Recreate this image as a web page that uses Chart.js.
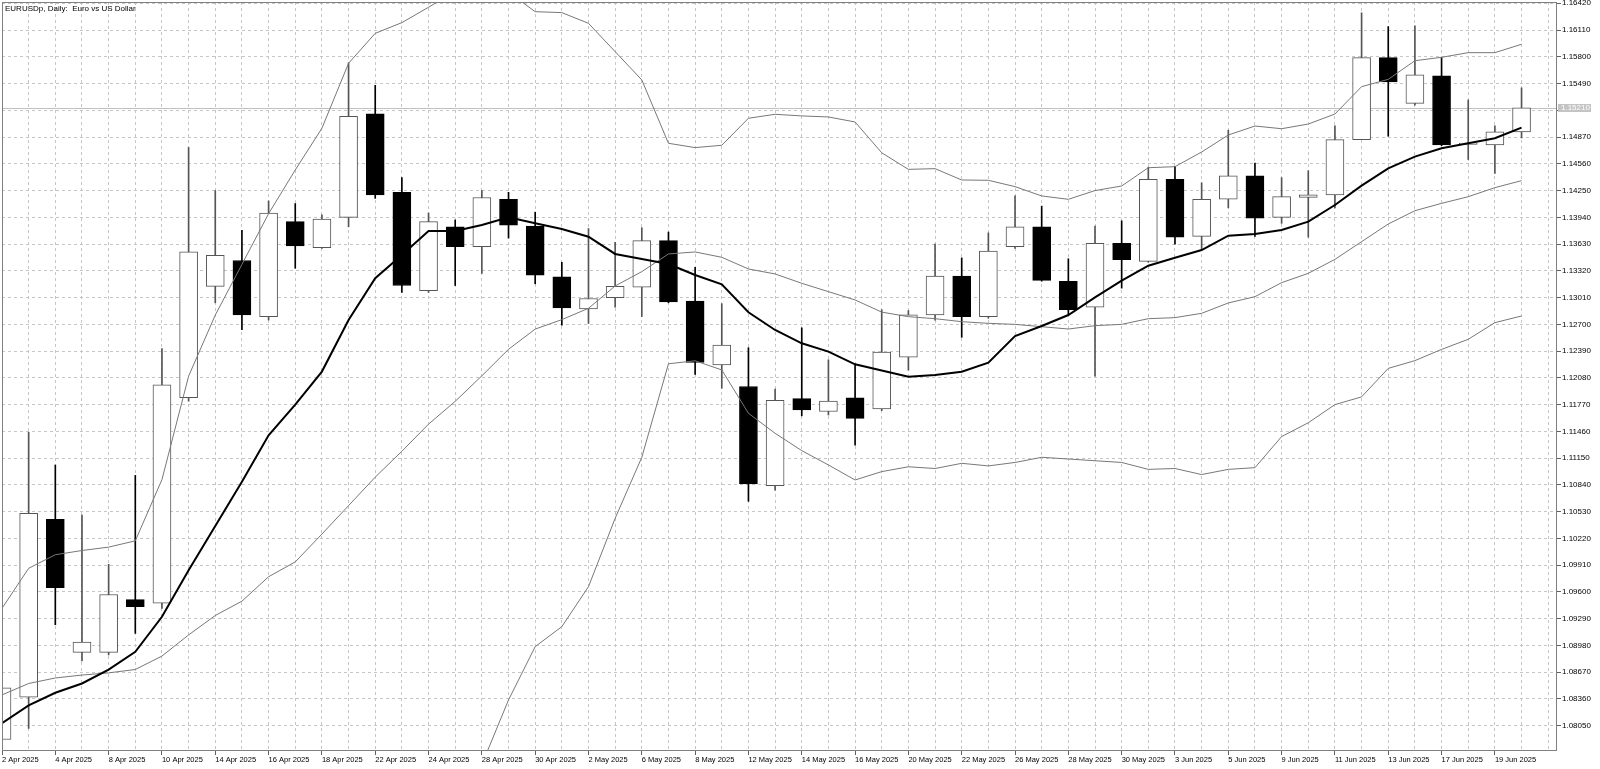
<!DOCTYPE html>
<html>
<head>
<meta charset="utf-8">
<style>html,body{margin:0;padding:0;background:#fff;overflow:hidden}canvas{display:block}</style>
<script src="https://cdn.jsdelivr.net/npm/chart.js@4.4.0/dist/chart.umd.min.js"></script>
</head>
<body>
<canvas id="c" width="1600" height="769"></canvas>
<script>
const chartTitle = 'EURUSDp, Daily:  Euro vs US Dollar';

const dates = [
  '2 Apr 2025','3 Apr 2025','4 Apr 2025','7 Apr 2025','8 Apr 2025','9 Apr 2025','10 Apr 2025','11 Apr 2025','14 Apr 2025','15 Apr 2025',
  '16 Apr 2025','17 Apr 2025','18 Apr 2025','21 Apr 2025','22 Apr 2025','23 Apr 2025','24 Apr 2025','25 Apr 2025','28 Apr 2025','29 Apr 2025',
  '30 Apr 2025','1 May 2025','2 May 2025','5 May 2025','6 May 2025','7 May 2025','8 May 2025','9 May 2025','12 May 2025','13 May 2025',
  '14 May 2025','15 May 2025','16 May 2025','19 May 2025','20 May 2025','21 May 2025','22 May 2025','23 May 2025','26 May 2025','27 May 2025',
  '28 May 2025','29 May 2025','30 May 2025','2 Jun 2025','3 Jun 2025','4 Jun 2025','5 Jun 2025','6 Jun 2025','9 Jun 2025','10 Jun 2025',
  '11 Jun 2025','12 Jun 2025','13 Jun 2025','16 Jun 2025','17 Jun 2025','18 Jun 2025','19 Jun 2025','20 Jun 2025'
];

const open = [
  1.0789, 1.0838, 1.1044, 1.0890, 1.0890, 1.0951, 1.0947, 1.1185, 1.1314, 1.1344,
  1.1279, 1.1389, 1.1359, 1.1394, 1.1514, 1.1423, 1.1309, 1.1383, 1.1360, 1.1415,
  1.1384, 1.1325, 1.1288, 1.1301, 1.1313, 1.1367, 1.1297, 1.1223, 1.1198, 1.1083,
  1.1184, 1.1169, 1.1185, 1.1172, 1.1232, 1.1281, 1.1326, 1.1279, 1.1360, 1.1383,
  1.1320, 1.1290, 1.1364, 1.1343, 1.1438, 1.1372, 1.1415, 1.1442, 1.1394, 1.1417,
  1.1420, 1.1484, 1.1579, 1.1526, 1.1558, 1.14785, 1.1478, 1.1493
];
const high = [
  1.0866, 1.1145, 1.1107, 1.1049, 1.0992, 1.1095, 1.1242, 1.1475, 1.1425, 1.1379,
  1.1413, 1.1410, 1.1397, 1.1573, 1.1547, 1.1440, 1.1399, 1.1391, 1.1425, 1.1423,
  1.1400, 1.1342, 1.1381, 1.1365, 1.1382, 1.1377, 1.1336, 1.1294, 1.1243, 1.1195,
  1.1266, 1.1229, 1.1224, 1.1287, 1.1286, 1.1363, 1.1347, 1.1376, 1.1419, 1.1407,
  1.1346, 1.1384, 1.1390, 1.1452, 1.1453, 1.1434, 1.1495, 1.1457, 1.1440, 1.1448,
  1.1500, 1.1631, 1.1615, 1.1616, 1.1579, 1.1530, 1.1500, 1.1544
];
const low = [
  1.0779, 1.0802, 1.0922, 1.0880, 1.0887, 1.0912, 1.0941, 1.1181, 1.1295, 1.1264,
  1.1275, 1.1335, 1.1358, 1.1383, 1.1416, 1.1307, 1.1307, 1.1315, 1.1329, 1.1370,
  1.1317, 1.1269, 1.1271, 1.1290, 1.1279, 1.1295, 1.1212, 1.1196, 1.1065, 1.1078,
  1.1164, 1.1165, 1.1130, 1.1170, 1.1217, 1.1275, 1.1255, 1.1277, 1.1358, 1.1320,
  1.1282, 1.1210, 1.1312, 1.1342, 1.1363, 1.1357, 1.1405, 1.1372, 1.1387, 1.1371,
  1.1405, 1.1484, 1.1488, 1.1524, 1.1477, 1.1461, 1.1445, 1.1486
];
const close = [
  1.0849, 1.1051, 1.0965, 1.0902, 1.0957, 1.0943, 1.1200, 1.1354, 1.1350, 1.1281,
  1.1399, 1.1361, 1.1392, 1.1511, 1.1420, 1.1315, 1.1389, 1.1360, 1.1417, 1.1385,
  1.1327, 1.1289, 1.1300, 1.1314, 1.1367, 1.1296, 1.1226, 1.1246, 1.1085, 1.1182,
  1.1171, 1.1181, 1.1161, 1.1238, 1.1281, 1.1326, 1.1279, 1.1355, 1.1383, 1.1321,
  1.1287, 1.1364, 1.1345, 1.1438, 1.1371, 1.1415, 1.1442, 1.1393, 1.1418, 1.1420,
  1.1484, 1.1579, 1.1551, 1.1559, 1.1478, 1.1480, 1.1493, 1.1521
];

const movingAverage = [
  1.0808, 1.08285, 1.08432, 1.08539, 1.08701, 1.08906, 1.09312, 1.0985, 1.10363, 1.10877,
  1.11415, 1.1177, 1.12153, 1.12751, 1.13234, 1.13504, 1.13782, 1.13782, 1.13852, 1.13941,
  1.13871, 1.13805, 1.13716, 1.13516, 1.13458, 1.134, 1.13272, 1.13164, 1.1284, 1.12635,
  1.12481, 1.12384, 1.12237, 1.12166, 1.12094, 1.12113, 1.12152, 1.12256, 1.12565, 1.12681,
  1.12808, 1.13013, 1.13206, 1.1338, 1.13472, 1.13561, 1.13727, 1.13747, 1.13793, 1.1389,
  1.14083, 1.14307, 1.14508, 1.14643, 1.1474, 1.14798, 1.14856, 1.14979
];
const bandUpper = [
  1.0941, 1.09874, 1.10031, 1.1008, 1.10119, 1.10192, 1.10901, 1.121, 1.12808, 1.13395,
  1.13982, 1.14489, 1.14972, 1.15725, 1.16072, 1.16196, 1.16374, 1.1656, 1.1665, 1.1655,
  1.16323, 1.16312, 1.16188, 1.1586, 1.15532, 1.14798, 1.14748, 1.14775, 1.15088, 1.15134,
  1.15115, 1.15103, 1.15045, 1.14688, 1.14496, 1.14504, 1.14373, 1.14369, 1.14296, 1.14188,
  1.14149, 1.1425, 1.14303, 1.14515, 1.14527, 1.14697, 1.14894, 1.14998, 1.14967, 1.15021,
  1.15137, 1.15454, 1.15539, 1.15755, 1.15794, 1.15848, 1.15848, 1.15945
];
const bandMiddle = [
  1.08407, 1.08539, 1.08603, 1.08637, 1.08662, 1.08701, 1.08857, 1.09102, 1.09327, 1.09493,
  1.09776, 1.09948, 1.1027, 1.1060, 1.1093, 1.1123, 1.11544, 1.11808, 1.12104, 1.12411,
  1.12645, 1.12755, 1.12886, 1.13145, 1.13311, 1.13516, 1.13539, 1.13477, 1.13342, 1.13284,
  1.13176, 1.13079, 1.12983, 1.12842, 1.12789, 1.12766, 1.12731, 1.12712, 1.127, 1.12673,
  1.12646, 1.12685, 1.127, 1.12766, 1.12778, 1.12828, 1.12948, 1.13021, 1.13183, 1.13291,
  1.13453, 1.13658, 1.13863, 1.14017, 1.14102, 1.14179, 1.14284, 1.14365
];
const bandLower = [
  1.0740, 1.0720, 1.0718, 1.0719, 1.0720, 1.0721, 1.0681, 1.0610, 1.0585, 1.0559,
  1.0557, 1.0538, 1.0557, 1.0548, 1.0579, 1.0626, 1.0669, 1.0703, 1.0760, 1.08348,
  1.08966, 1.09198, 1.09661, 1.10453, 1.1116, 1.12243, 1.12278, 1.12172, 1.1167, 1.11438,
  1.11237, 1.11071, 1.10897, 1.10994, 1.1105, 1.1103, 1.1109, 1.1106, 1.1110, 1.1116,
  1.1114, 1.1112, 1.1110, 1.1102, 1.1103, 1.1096, 1.1102, 1.1104, 1.1140, 1.1156,
  1.1177, 1.1186, 1.1219, 1.1228, 1.1241, 1.12527, 1.1272, 1.12797
];

const yTickLabels = [
  '1.08050','1.08360','1.08670','1.08980','1.09290','1.09600','1.09910','1.10220','1.10530','1.10840',
  '1.11150','1.11460','1.11770','1.12080','1.12390','1.12700','1.13010','1.13320','1.13630','1.13940',
  '1.14250','1.14560','1.14870','1.15180','1.15490','1.15800','1.16110','1.16420'
];
const lastPrice = 1.15210;
const lastPriceLabel = '1.15210';

// view window of the price axis and time axis
const Y_MIN = 1.07757, Y_MAX = 1.16435, X_MAX = 58.33;

const FONT = '"Liberation Sans", Arial, sans-serif';
const idx = dates.map((d, i) => i);
const isUp = idx.map(i => close[i] >= open[i]);
const UP_LINE = '#555555';
const BAND = '#787878';
const toXY = arr => arr.map((v, i) => ({ x: i, y: v }));
const labelFor = v => (Number.isInteger(v) && v % 2 === 0 && v < dates.length) ? dates[v] : '';

const mtPlugin = {
  id: 'mt',
  beforeDraw(chart) {
    const c = chart.ctx;
    c.save(); c.fillStyle = '#fff'; c.fillRect(0, 0, chart.width, chart.height); c.restore();
  },
  beforeDatasetsDraw(chart) {
    const c = chart.ctx, a = chart.chartArea;
    const y = Math.round(chart.scales.y.getPixelForValue(lastPrice)) + 0.5;
    c.save();
    c.strokeStyle = '#c0c0c0'; c.lineWidth = 1;
    c.beginPath(); c.moveTo(a.left, y); c.lineTo(a.right, y); c.stroke();
    c.restore();
  },
  afterDraw(chart) {
    const c = chart.ctx, a = chart.chartArea;
    c.save();
    c.strokeStyle = '#808080'; c.lineWidth = 1;
    c.strokeRect(Math.round(a.left) + 0.5, Math.round(a.top) + 0.5, Math.round(a.right - a.left) - 1, Math.round(a.bottom - a.top) - 1);
    const y = chart.scales.y.getPixelForValue(lastPrice);
    c.fillStyle = '#c4c4c4';
    c.fillRect(a.right + 1, Math.round(y) - 4, 33, 8);
    c.fillStyle = '#ffffff';
    c.font = '8px ' + FONT;
    c.textBaseline = 'middle'; c.textAlign = 'left';
    c.fillText(lastPriceLabel, a.right + 4, Math.round(y));
    c.fillStyle = '#000';
    c.fillText(chartTitle, a.left + 3, a.top + 7);
    c.restore();
  }
};

new Chart(document.getElementById('c'), {
  type: 'bar',
  data: {
    datasets: [
      { type: 'line', label: 'MA', data: toXY(movingAverage), borderColor: '#000', borderWidth: 2, pointRadius: 0, tension: 0, order: 0 },
      { type: 'line', label: 'BB upper', data: toXY(bandUpper), borderColor: BAND, borderWidth: 1, pointRadius: 0, tension: 0, order: 0 },
      { type: 'line', label: 'BB middle', data: toXY(bandMiddle), borderColor: BAND, borderWidth: 1, pointRadius: 0, tension: 0, order: 0 },
      { type: 'line', label: 'BB lower', data: toXY(bandLower), borderColor: BAND, borderWidth: 1, pointRadius: 0, tension: 0, order: 0 },
      {
        type: 'bar', label: 'Body', data: idx.map(i => ({ x: i, y: [open[i], close[i]] })),
        backgroundColor: idx.map(i => isUp[i] ? '#ffffff' : '#000000'),
        borderColor: idx.map(i => isUp[i] ? UP_LINE : '#000000'),
        borderWidth: 1, borderSkipped: false, barThickness: 18, grouped: false, order: 1
      },
      {
        type: 'bar', label: 'Wick', data: idx.map(i => ({ x: i, y: [low[i], high[i]] })),
        backgroundColor: idx.map(i => isUp[i] ? UP_LINE : '#000000'),
        borderWidth: 0, barThickness: 1, grouped: false, order: 2
      }
    ]
  },
  options: {
    responsive: false, animation: false, devicePixelRatio: 1, events: [],
    layout: { padding: { left: 2, top: 2, right: 0, bottom: 0 } },
    plugins: { legend: { display: false }, tooltip: { enabled: false }, title: { display: false } },
    scales: {
      x: {
        type: 'linear', min: 0, max: X_MAX, offset: false,
        grid: {
          offset: false, color: '#c6c6c6', lineWidth: 1, drawTicks: true, tickLength: 4, tickWidth: 1,
          tickColor: ctx => (ctx.tick && labelFor(ctx.tick.value) !== '') ? '#606060' : 'rgba(0,0,0,0)'
        },
        border: { display: false, dash: [3, 3] },
        afterBuildTicks: s => { const t = []; for (let k = 0; k <= Math.floor(X_MAX); k++) t.push({ value: k }); s.ticks = t; },
        afterFit: s => { s.height = 18; s.paddingLeft = 0; s.paddingRight = 0; },
        ticks: {
          autoSkip: false, maxRotation: 0, minRotation: 0, align: 'start', padding: 0,
          color: '#000', font: { family: FONT, size: 7.5 },
          callback: v => labelFor(v)
        }
      },
      y: {
        type: 'linear', position: 'right', min: Y_MIN, max: Y_MAX, beginAtZero: false,
        grid: { color: '#c6c6c6', lineWidth: 1, drawTicks: true, tickLength: 4, tickWidth: 1, tickColor: '#606060' },
        border: { display: false, dash: [3, 3] },
        afterBuildTicks: s => { s.ticks = yTickLabels.map(t => ({ value: parseFloat(t) })); },
        afterFit: s => { s.width = 43; s.paddingTop = 0; s.paddingBottom = 0; },
        ticks: {
          autoSkip: false, padding: 1, color: '#000', font: { family: FONT, size: 8 },
          callback: (v, i) => Math.abs(v - lastPrice) < 0.0005 ? '' : yTickLabels[i]
        }
      }
    }
  },
  plugins: [mtPlugin]
});
</script>
</body>
</html>
